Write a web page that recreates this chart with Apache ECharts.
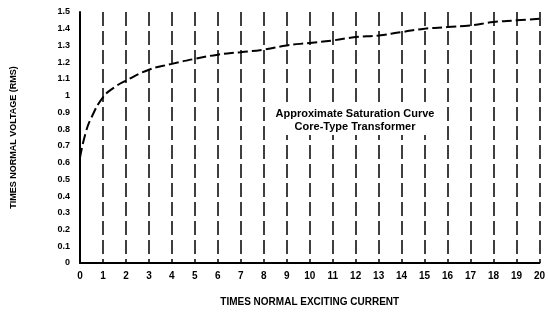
<!DOCTYPE html>
<html><head><meta charset="utf-8">
<script src="https://cdn.jsdelivr.net/npm/echarts@6/dist/echarts.min.js"></script>
<style>html,body{margin:0;padding:0;background:#fff}#c{width:548px;height:318px}</style>
</head><body><div id="c"></div>
<script>
const xValues = [0, 0.25, 0.5, 1, 1.5, 2, 3, 4, 5, 6, 7, 8, 9, 10, 11, 12, 13, 14, 15, 16, 17, 18, 19, 20];
const yValues = [0.63, 0.78, 0.87, 0.99, 1.05, 1.09, 1.155, 1.19, 1.22, 1.245, 1.26, 1.275, 1.30, 1.315, 1.33, 1.35, 1.36, 1.38, 1.40, 1.41, 1.42, 1.44, 1.45, 1.46];
const yTickLabels = {0:'0',0.1:'0.1',0.2:'0.2',0.3:'0.3',0.4:'0.4',0.5:'0.5',0.6:'0.6',0.7:'0.7',0.8:'0.8',0.9:'0.9',1:'1',1.1:'1.1',1.2:'1.2',1.3:'1.3',1.4:'1.4',1.5:'1.5'};
const annotation = ['Approximate Saturation Curve', 'Core-Type Transformer'];
const xTitle = 'TIMES NORMAL EXCITING CURRENT';
const yTitle = 'TIMES NORMAL VOLTAGE (RMS)';

const chart = echarts.init(document.getElementById('c'), null, {renderer:'canvas'});
const font = 'Liberation Sans';
chart.setOption({
  animation:false,
  grid:{left:80,right:6,top:12,bottom:55},
  xAxis:{type:'value',min:0,max:20,interval:1,
    axisLine:{lineStyle:{color:'#000',width:2}},
    axisTick:{show:false},
    axisLabel:{color:'#000',fontFamily:font,fontSize:10,fontWeight:'bold',margin:8},
    splitLine:{show:true,lineStyle:{color:'#000',width:1.5,type:[14,5]}},
    name:xTitle,nameLocation:'middle',nameGap:34,
    nameTextStyle:{color:'#000',fontFamily:font,fontSize:10,fontWeight:'bold'}},
  yAxis:{type:'value',min:0,max:1.5,interval:0.1,
    axisLine:{show:true,lineStyle:{color:'#000',width:2}},
    axisTick:{show:false},
    axisLabel:{color:'#000',fontFamily:font,fontSize:9,fontWeight:'bold',margin:10,
      formatter:v=>{const k=Math.round(v*10)/10;return yTickLabels[k]!==undefined?yTickLabels[k]:'';}},
    splitLine:{show:false},
    name:yTitle,nameLocation:'middle',nameGap:62,nameRotate:90,
    nameTextStyle:{color:'#000',fontFamily:font,fontSize:9,fontWeight:'bold'}},
  series:[{type:'line',data:xValues.map((x,i)=>[x,yValues[i]]),smooth:true,symbol:'none',
    lineStyle:{color:'#000',width:2,type:[10,4]}}],
  graphic:[{type:'text',x:355,y:105,z:100,zlevel:1,
    style:{text:annotation.join('\n'),align:'center',verticalAlign:'top',fill:'#000',font:'bold 11px "Liberation Sans"',
      lineHeight:13,backgroundColor:'#fff',padding:[2,4]}}]
});
</script></body></html>
